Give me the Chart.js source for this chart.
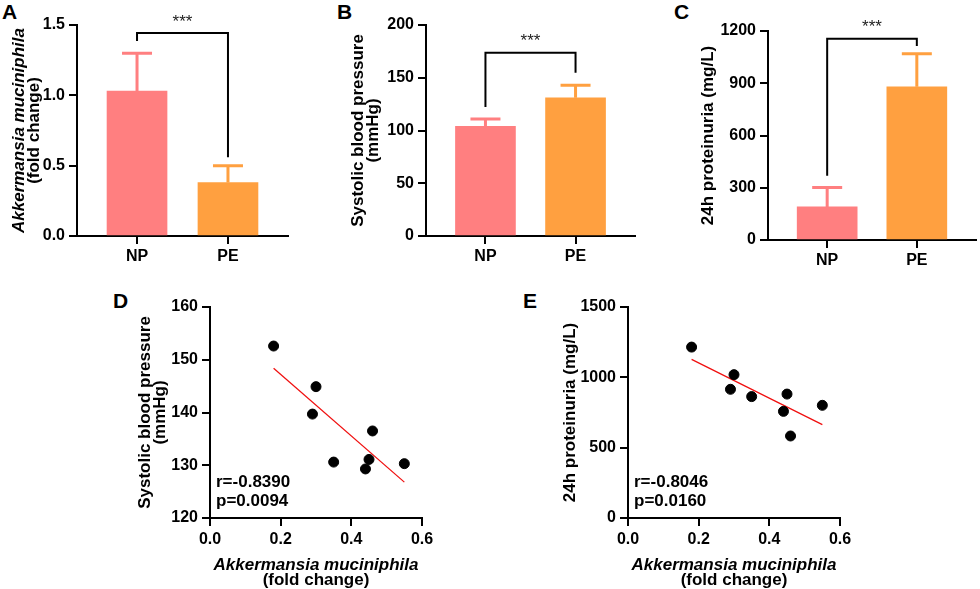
<!DOCTYPE html>
<html>
<head>
<meta charset="utf-8">
<script src="https://cdn.jsdelivr.net/npm/chart.js@4.4.0/dist/chart.umd.min.js"></script>
<style>
  body { margin: 0; background: #fff; width: 980px; height: 589px; position: relative; overflow: hidden; font-family: 'Liberation Sans', Arial, sans-serif; }
  canvas { position: absolute; }
  .tag { position: absolute; font-weight: bold; font-size: 21px; line-height: 1; color: #000; }
</style>
</head>
<body>
<div class="tag" style="left:2px;top:1px">A</div>
<div class="tag" style="left:337px;top:1px">B</div>
<div class="tag" style="left:674px;top:1px">C</div>
<div class="tag" style="left:113px;top:290px">D</div>
<div class="tag" style="left:523px;top:290px">E</div>

<canvas id="chartA" width="320" height="280" style="left:0;top:0"></canvas>
<canvas id="chartB" width="320" height="280" style="left:320px;top:0"></canvas>
<canvas id="chartC" width="340" height="280" style="left:640px;top:0"></canvas>
<canvas id="chartD" width="400" height="309" style="left:100px;top:280px"></canvas>
<canvas id="chartE" width="400" height="309" style="left:520px;top:280px"></canvas>

<script>
// groups
const groups = ["NP", "PE"];

// bar means and upper SD
const akkMean = [1.03, 0.38];
const akkErr = [0.27, 0.12];
const sbpMean = [104, 131];
const sbpErr = [7, 12];
const protMean = [190, 880];
const protErr = [112, 190];

// correlation points (PE group)
const akkX = [0.18, 0.30, 0.29, 0.35, 0.46, 0.45, 0.44, 0.55];
const sbpY = [152.6, 144.9, 139.7, 130.6, 136.5, 131.1, 129.3, 130.3];
const protY = [1215, 1019, 915, 863, 583, 881, 758, 801];

// fitted lines
const fitX = [0.18, 0.55];
const sbpFit = [148.4, 126.8];
const protFit = [1128, 664];

const FONT = "'Liberation Sans', Arial, sans-serif";
const NP_COLOR = "#FF7F80";
const PE_COLOR = "#FFA040";

Chart.defaults.font.family = FONT;
Chart.defaults.color = "#000";
Chart.defaults.animation = false;

// error bars (upper only) + significance bracket + titles + r/p text
const extras = {
    id: "extras",
    afterDatasetsDraw(chart) {
        const ctx = chart.ctx;
        const o = chart.options.plugins.extras || {};
        const xs = chart.scales.x, ys = chart.scales.y;
        const area = chart.chartArea;
        ctx.save();

        if (o.err) {
            const meta = chart.getDatasetMeta(0);
            meta.data.forEach((bar, i) => {
                const v = chart.data.datasets[0].data[i].y;
                const top = ys.getPixelForValue(v + o.err[i]);
                ctx.strokeStyle = o.errColors[i];
                ctx.lineWidth = 3;
                ctx.beginPath();
                ctx.moveTo(bar.x, bar.y);
                ctx.lineTo(bar.x, top);
                ctx.moveTo(bar.x - 15, top);
                ctx.lineTo(bar.x + 15, top);
                ctx.stroke();
            });
        }

        if (o.bracket) {
            const b = o.bracket;
            const x1 = xs.getPixelForValue(1), x2 = xs.getPixelForValue(2);
            const yb = ys.getPixelForValue(b.level);
            ctx.strokeStyle = "#000";
            ctx.lineWidth = 2;
            ctx.beginPath();
            ctx.moveTo(x1, ys.getPixelForValue(b.left));
            ctx.lineTo(x1, yb);
            ctx.lineTo(x2, yb);
            ctx.lineTo(x2, ys.getPixelForValue(b.right));
            ctx.stroke();
            ctx.fillStyle = "#222";
            ctx.font = "17px " + FONT;
            ctx.textAlign = "center";
            ctx.textBaseline = "middle";
            ctx.fillText("***", (x1 + x2) / 2, yb - 11);
        }

        ctx.fillStyle = "#000";
        if (o.yTitle) {
            const cy = (area.top + area.bottom) / 2;
            o.yTitle.forEach((ln, i) => {
                ctx.save();
                ctx.translate(o.yTitleX[i], cy);
                ctx.rotate(-Math.PI / 2);
                ctx.font = (ln.italic ? "italic " : "") + "bold 17px " + FONT;
                ctx.textAlign = "center";
                ctx.textBaseline = "middle";
                ctx.fillText(ln.text, 0, 0);
                ctx.restore();
            });
        }
        if (o.xTitle) {
            const cx = (area.left + area.right) / 2;
            o.xTitle.forEach((ln, i) => {
                ctx.font = (ln.italic ? "italic " : "") + "bold 17px " + FONT;
                ctx.textAlign = "center";
                ctx.textBaseline = "middle";
                ctx.fillText(ln.text, cx, o.xTitleY[i]);
            });
        }
        if (o.stats) {
            ctx.font = "bold 17px " + FONT;
            ctx.textAlign = "left";
            ctx.textBaseline = "middle";
            ctx.fillText(o.stats[0], area.left + 6, area.bottom - 36);
            ctx.fillText(o.stats[1], area.left + 6, area.bottom - 17);
        }
        ctx.restore();
    }
};

function fixBox(size, key) {
    return function (scale) {
        scale[key] = size;
        scale.paddingLeft = 0; scale.paddingRight = 0;
        scale.paddingTop = 0; scale.paddingBottom = 0;
    };
}

function axis(min, max, step, fmt, box, key) {
    return {
        type: "linear",
        min: min,
        max: max,
        offset: false,
        grid: { drawOnChartArea: false, drawTicks: true, tickLength: 8, color: "#000", lineWidth: 2, offset: false },
        border: { display: true, color: "#000", width: 2 },
        ticks: {
            color: "#000",
            font: { size: 16, weight: "bold" },
            padding: 4,
            stepSize: step,
            callback: fmt
        },
        afterFit: fixBox(box, key)
    };
}

function barChart(id, means, errs, yAxis, extrasOpt, box) {
    const x = axis(0.34, 2.66, 1, (v, i) => groups[i], box.xh, "height");
    x.afterBuildTicks = s => { s.ticks = [{ value: 1 }, { value: 2 }]; };
    x.ticks.padding = 3;

    extrasOpt.err = errs;
    extrasOpt.errColors = [NP_COLOR, PE_COLOR];

    return new Chart(document.getElementById(id), {
        type: "bar",
        data: {
            datasets: [{
                data: means.map((m, i) => ({ x: i + 1, y: m })),
                backgroundColor: [NP_COLOR, PE_COLOR],
                barThickness: 60
            }]
        },
        options: {
            responsive: false,
            layout: { padding: box.pad },
            plugins: { legend: { display: false }, tooltip: { enabled: false }, extras: extrasOpt },
            scales: { x: x, y: yAxis }
        },
        plugins: [extras]
    });
}

function scatterChart(id, ys, fit, yAxis, extrasOpt, box) {
    const x = axis(0, 0.6, 0.2, v => v.toFixed(1), box.xh, "height");

    return new Chart(document.getElementById(id), {
        type: "scatter",
        data: {
            datasets: [{
                data: akkX.map((v, i) => ({ x: v, y: ys[i] })),
                backgroundColor: "#000",
                borderColor: "#000",
                pointRadius: 5
            }, {
                type: "line",
                data: fitX.map((v, i) => ({ x: v, y: fit[i] })),
                borderColor: "#F01010",
                borderWidth: 1.3,
                pointRadius: 0,
                fill: false
            }]
        },
        options: {
            responsive: false,
            layout: { padding: box.pad },
            plugins: { legend: { display: false }, tooltip: { enabled: false }, extras: extrasOpt },
            scales: { x: x, y: yAxis }
        },
        plugins: [extras]
    });
}

const plain = v => String(v);

barChart("chartA", akkMean, akkErr,
    axis(0, 1.5, 0.5, v => v.toFixed(1), 77, "width"),
    {
        bracket: { level: 1.443, left: 1.386, right: 0.56 },
        yTitle: [{ text: "Akkermansia muciniphila", italic: true }, { text: "(fold change)" }],
        yTitleX: [19, 34]
    },
    { pad: { top: 25, right: 32, left: 0, bottom: 0 }, xh: 44 });

barChart("chartB", sbpMean, sbpErr,
    axis(0, 200, 50, plain, 106, "width"),
    {
        bracket: { level: 173.7, left: 122.3, right: 154.8 },
        yTitle: [{ text: "Systolic blood pressure" }, { text: "(mmHg)" }],
        yTitleX: [38, 53]
    },
    { pad: { top: 25, right: 5, left: 0, bottom: 0 }, xh: 44 });

barChart("chartC", protMean, protErr,
    axis(0, 1200, 300, plain, 128, "width"),
    {
        bracket: { level: 1156, left: 369, right: 1114 },
        yTitle: [{ text: "24h proteinuria (mg/L)" }],
        yTitleX: [68]
    },
    { pad: { top: 31, right: 4, left: 0, bottom: 0 }, xh: 40 });

scatterChart("chartD", sbpY, sbpFit,
    axis(120, 160, 10, plain, 110, "width"),
    {
        yTitle: [{ text: "Systolic blood pressure" }, { text: "(mmHg)" }],
        yTitleX: [45, 60],
        xTitle: [{ text: "Akkermansia muciniphila", italic: true }, { text: "(fold change)" }],
        xTitleY: [285, 300],
        stats: ["r=-0.8390", "p=0.0094"]
    },
    { pad: { top: 27, right: 78, left: 0, bottom: 0 }, xh: 71 });

scatterChart("chartE", protY, protFit,
    axis(0, 1500, 500, plain, 108, "width"),
    {
        yTitle: [{ text: "24h proteinuria (mg/L)" }],
        yTitleX: [50],
        xTitle: [{ text: "Akkermansia muciniphila", italic: true }, { text: "(fold change)" }],
        xTitleY: [285, 300],
        stats: ["r=-0.8046", "p=0.0160"]
    },
    { pad: { top: 27, right: 80, left: 0, bottom: 0 }, xh: 71 });
</script>
</body>
</html>
